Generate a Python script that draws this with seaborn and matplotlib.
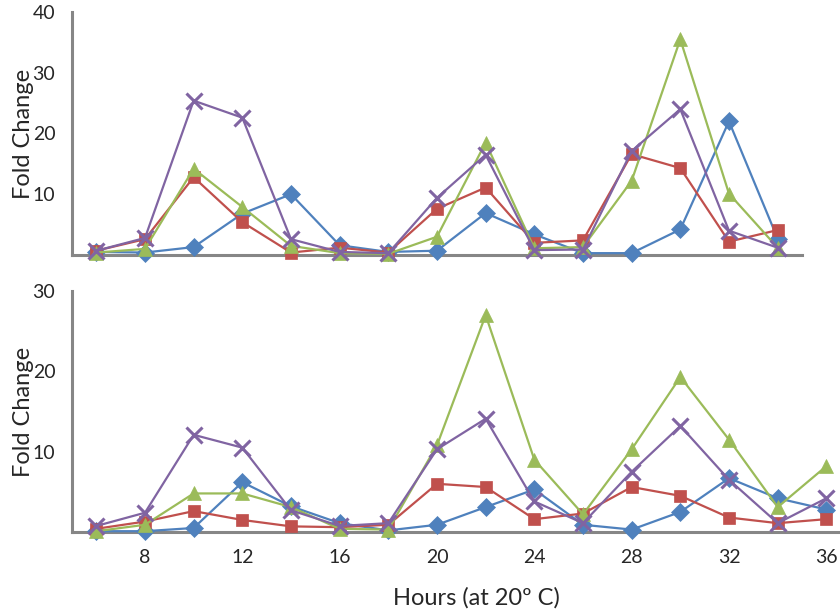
import numpy as np
import matplotlib
matplotlib.use("Agg")
import matplotlib.pyplot as plt
import seaborn as sns

# hours sampled (top panel stops at 34, bottom goes to 36)
hours_top = [6, 8, 10, 12, 14, 16, 18, 20, 22, 24, 26, 28, 30, 32, 34]
hours_bot = [6, 8, 10, 12, 14, 16, 18, 20, 22, 24, 26, 28, 30, 32, 34, 36]

# top panel fold change
top_blue = [0.5, 0.4, 1.3, 6.8, 10.0, 1.6, 0.5, 0.7, 6.9, 3.4, 0.3, 0.3, 4.2, 22.0, 2.7]
top_red = [0.7, 2.6, 12.8, 5.4, 0.4, 1.2, 0.4, 7.6, 11.1, 2.0, 2.4, 16.6, 14.3, 2.2, 4.1]
top_green = [0.4, 1.0, 14.2, 7.9, 1.5, 0.3, 0.2, 3.0, 18.5, 1.1, 1.3, 12.2, 35.5, 10.1, 1.2]
top_purple = [0.7, 2.8, 25.4, 22.6, 2.6, 0.5, 0.3, 9.4, 16.5, 0.8, 0.9, 17.1, 24.0, 4.0, 1.2]

# bottom panel fold change
bot_blue = [0.1, 0.1, 0.5, 6.2, 3.2, 1.1, 0.2, 0.9, 3.1, 5.3, 0.9, 0.3, 2.5, 6.7, 4.2, 2.8]
bot_red = [0.4, 1.3, 2.6, 1.5, 0.7, 0.6, 0.9, 6.0, 5.6, 1.6, 2.3, 5.6, 4.5, 1.8, 1.1, 1.6]
bot_green = [0.1, 0.9, 4.8, 4.8, 3.1, 0.4, 0.3, 10.8, 27.0, 9.0, 2.2, 10.3, 19.3, 11.5, 3.1, 8.2]
bot_purple = [0.75, 2.4, 12.1, 10.5, 2.7, 0.75, 1.1, 10.3, 14.1, 3.8, 1.1, 7.5, 13.2, 6.5, 1.1, 4.2]

colors = ["#4F81BD", "#C0504D", "#9BBB59", "#8064A2"]
markers = ["D", "s", "^", "x"]
msizes = [9.5, 8, 10.5, 11]
gray = "#868686"

sns.set_style("white")
plt.rcParams["font.family"] = ["Lato", "DejaVu Sans"]

fig = plt.figure(figsize=(8.4, 6.11), dpi=100)
ax1 = fig.add_axes([0.0857, 0.5827, 0.869, 0.3977])
ax2 = fig.add_axes([0.0857, 0.1293, 0.9143, 0.3944])


def draw(ax, hours, series, ymax, xmax):
    for vals, c, m, ms in zip(series, colors, markers, msizes):
        sns.lineplot(x=hours, y=vals, ax=ax, color=c, marker=m, markersize=ms,
                     markeredgecolor=c, markeredgewidth=2.2 if m == "x" else 0.5,
                     linewidth=1.6, clip_on=False, zorder=3)
    ax.set_xlim(5, xmax)
    ax.set_ylim(0, ymax)
    for s in ["top", "right"]:
        ax.spines[s].set_visible(False)
    for s in ["left", "bottom"]:
        ax.spines[s].set_color(gray)
        ax.spines[s].set_linewidth(2.2)
    yt = list(range(0, ymax + 1, 5))
    ax.set_yticks(yt)
    ax.set_yticklabels(["" if (v % 10 or v == 0) else str(v) for v in yt], fontsize=14)
    ax.tick_params(axis="y", which="major", direction="inout", length=8, width=2,
                   color=gray, pad=8)
    ax.set_xticks(np.arange(5, xmax + 0.01, 2), minor=True)
    ax.tick_params(axis="x", which="minor", direction="inout", length=7, width=2, color=gray)
    ax.set_ylabel("Fold Change", fontsize=17)
    ax.set_xlabel("")


draw(ax1, hours_top, [top_blue, top_red, top_green, top_purple], 40, 35)
ax1.set_xticks([])
ax1.yaxis.set_label_coords(-0.052, 0.5)

draw(ax2, hours_bot, [bot_blue, bot_red, bot_green, bot_purple], 30, 36.56)
ax2.set_xticks([8, 12, 16, 20, 24, 28, 32, 36])
ax2.set_xticklabels(["8", "12", "16", "20", "24", "28", "32", "36"], fontsize=14)
ax2.tick_params(axis="x", which="major", length=0, pad=12)
ax2.set_xlabel("Hours (at 20º C)", fontsize=17)
ax2.xaxis.set_label_coords(0.527, -0.228)
ax2.yaxis.set_label_coords(-0.050, 0.5)

fig.savefig("out.png", dpi=100)
